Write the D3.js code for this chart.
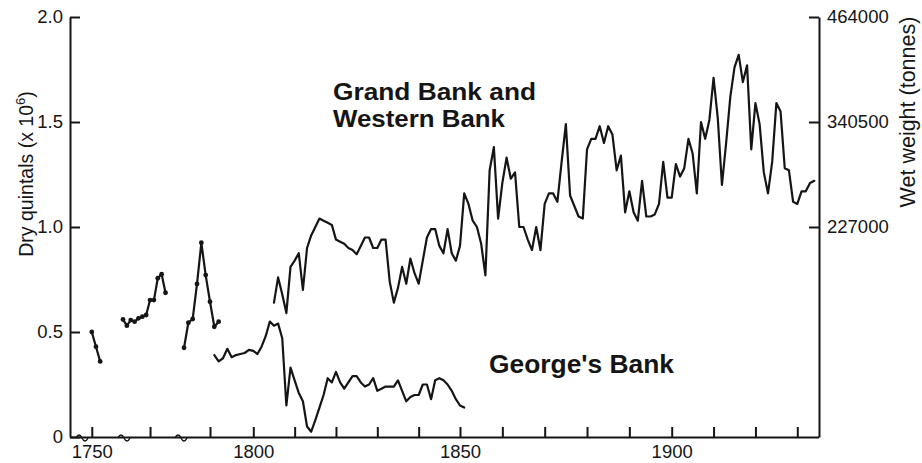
<!DOCTYPE html>
<html>
<head>
<meta charset="utf-8">
<script src="https://cdn.jsdelivr.net/npm/d3@7"></script>
<style>
  html, body { margin: 0; padding: 0; background: #fff; }
  svg { display: block; }
  text { font-family: "Liberation Sans", Arial, Helvetica, sans-serif; fill: #151515; }
</style>
</head>
<body>
<svg id="chart" width="922" height="463"></svg>
<script>
// Grand Bank and Western Bank catch, early fragmentary records (dotted segments)
const gbYearsA = [1750, 1751, 1752];
const gbValuesA = [0.50, 0.43, 0.36];
const gbYearsB = [1763, 1764, 1765, 1766, 1767, 1768, 1769, 1770, 1771, 1772, 1773, 1774];
const gbValuesB = [0.56, 0.53, 0.557, 0.549, 0.565, 0.573, 0.581, 0.652, 0.652, 0.756, 0.775, 0.687];
const gbYearsC = [1784, 1785, 1786, 1787, 1788, 1789, 1790, 1791, 1792];
const gbValuesC = [0.425, 0.544, 0.562, 0.729, 0.925, 0.771, 0.644, 0.525, 0.549];

// Grand Bank and Western Bank, continuous annual series 1805-1934 (million dry quintals)
const gbMainStart = 1805;
const gbMainValues = [
  0.64, 0.76, 0.68, 0.59, 0.81, 0.84, 0.875, 0.70, 0.90, 0.96,
  1.00, 1.04, 1.03, 1.02, 1.01, 0.94, 0.93, 0.92, 0.90, 0.89,
  0.87, 0.91, 0.95, 0.95, 0.90, 0.90, 0.94, 0.94, 0.74, 0.64,
  0.71, 0.81, 0.73, 0.85, 0.78, 0.73, 0.84, 0.95, 0.99, 0.99,
  0.91, 0.875, 0.99, 0.875, 0.84, 0.91, 1.16, 1.11, 1.03, 1.00,
  0.92, 0.77, 1.27, 1.38, 1.04, 1.21, 1.33, 1.23, 1.26, 1.00,
  1.00, 0.94, 0.89, 1.00, 0.89, 1.11, 1.16, 1.16, 1.12, 1.31,
  1.49, 1.15, 1.10, 1.05, 1.04, 1.37, 1.42, 1.42, 1.48, 1.40,
  1.48, 1.44, 1.27, 1.34, 1.07, 1.17, 1.07, 1.03, 1.22, 1.05,
  1.05, 1.06, 1.11, 1.31, 1.14, 1.14, 1.30, 1.24, 1.28, 1.42,
  1.35, 1.16, 1.50, 1.42, 1.51, 1.71, 1.52, 1.20, 1.40, 1.62,
  1.76, 1.82, 1.69, 1.77, 1.37, 1.59, 1.49, 1.26, 1.16, 1.31,
  1.59, 1.55, 1.28, 1.27, 1.12, 1.11, 1.17, 1.17, 1.21, 1.22
];

// George's Bank, annual series 1791-1851
const georgesStart = 1791;
const georgesValues = [
  0.39, 0.36, 0.375, 0.42, 0.38, 0.39, 0.395, 0.40, 0.415, 0.41,
  0.395, 0.43, 0.48, 0.55, 0.53, 0.54, 0.47, 0.15, 0.33, 0.27,
  0.21, 0.17, 0.05, 0.025, 0.08, 0.14, 0.20, 0.28, 0.26, 0.31,
  0.26, 0.23, 0.26, 0.29, 0.29, 0.26, 0.24, 0.25, 0.28, 0.22,
  0.23, 0.24, 0.24, 0.24, 0.27, 0.22, 0.17, 0.19, 0.20, 0.20,
  0.25, 0.25, 0.18, 0.27, 0.28, 0.27, 0.25, 0.22, 0.18, 0.15,
  0.14
];

// Axis ticks
const yTicks = [0, 0.5, 1.0, 1.5, 2.0];
const rightTicks = [227000, 340500, 464000];
const xTickYears = [1750, 1770, 1790, 1800, 1810, 1820, 1830, 1840, 1850, 1860,
                    1870, 1880, 1890, 1900, 1910, 1920, 1930];
const xLabelYears = [1750, 1800, 1850, 1900];
const breakYears = [1747.5, 1760, 1780];

const svg = d3.select("#chart");
const ink = "#151515";

// Broken time axis: compressed gaps between the early fragments
const x = d3.scaleLinear()
  .domain([1744.8, 1757.45, 1763, 1777.75, 1783.07, 1800, 1850, 1900, 1930, 1935])
  .range([70, 123, 123, 180, 180, 253.3, 460, 671.7, 797.3, 818.5]);
const breakX = d => d === 1747.5 ? 82 : d === 1760 ? 124 : 181;

const y = d3.scaleLinear().domain([0, 2]).range([437, 17]);
const yRight = d3.scaleLinear()
  .domain([0, 227000, 340500, 464000])
  .range([y(0), y(1), y(1.5), y(2)]);

function styleAxis(g) {
  g.selectAll("path.domain").attr("stroke", ink).attr("stroke-width", 2);
  g.selectAll(".tick line").attr("stroke", ink).attr("stroke-width", 2);
  g.selectAll(".tick text").attr("font-size", 18.5).style("fill", ink)
    .attr("font-family", "'Liberation Sans', Arial, Helvetica, sans-serif");
}

// Bottom axis
svg.append("g")
  .attr("transform", "translate(0,437)")
  .call(d3.axisBottom(x).tickValues(xTickYears).tickSize(-10).tickSizeOuter(0)
        .tickPadding(8).tickFormat(d => xLabelYears.includes(d) ? String(d) : ""))
  .call(styleAxis);

// Left axis
svg.append("g")
  .attr("transform", "translate(70,0)")
  .call(d3.axisLeft(y).tickValues(yTicks).tickSize(-10).tickSizeOuter(0)
        .tickPadding(7).tickFormat(d => d === 0 ? "0" : d3.format(".1f")(d)))
  .call(styleAxis);

// Right axis (wet weight)
svg.append("g")
  .attr("transform", "translate(819,0)")
  .call(d3.axisRight(yRight).tickValues(rightTicks).tickSize(-10).tickSizeOuter(0)
        .tickPadding(8).tickFormat(d3.format("d")))
  .call(styleAxis);

// Axis break marks
svg.append("g").selectAll("path")
  .data(breakYears)
  .join("path")
  .attr("d", d => {
    const bx = breakX(d);
    return `M${bx - 6},438 q3,-6 6,0 q3,6 6,0`;
  })
  .attr("fill", "none").attr("stroke", ink).attr("stroke-width", 1.5);

// Axis titles
svg.append("text")
  .attr("transform", "translate(33,174) rotate(-90)")
  .attr("text-anchor", "middle")
  .attr("font-size", 19.5)
  .html('Dry quintals (x 10<tspan dy="-8" font-size="13">6</tspan><tspan dy="8">)</tspan>');

svg.append("text")
  .attr("transform", "translate(915,112) rotate(-90)")
  .attr("text-anchor", "middle")
  .attr("font-size", 21.5)
  .text("Wet weight (tonnes)");

// Series
const line = d3.line().x(d => x(d.year)).y(d => y(d.value));
const zip = (years, values) => years.map((yr, i) => ({ year: yr, value: values[i] }));
const seq = (start, values) => values.map((v, i) => ({ year: start + i, value: v }));

const earlySegments = [zip(gbYearsA, gbValuesA), zip(gbYearsB, gbValuesB), zip(gbYearsC, gbValuesC)];
const lines = svg.append("g").attr("fill", "none").attr("stroke", ink)
  .attr("stroke-width", 2.2).attr("stroke-linejoin", "round").attr("stroke-linecap", "round");

earlySegments.forEach(seg => lines.append("path").attr("d", line(seg)));
lines.append("path").attr("d", line(seq(gbMainStart, gbMainValues)));
lines.append("path").attr("d", line(seq(georgesStart, georgesValues)));

svg.append("g").attr("fill", ink)
  .selectAll("circle")
  .data(earlySegments.flat())
  .join("circle")
  .attr("cx", d => x(d.year))
  .attr("cy", d => y(d.value))
  .attr("r", 2.4);

// Series labels
const labels = svg.append("g").attr("font-weight", "bold").attr("lengthAdjust", "spacingAndGlyphs");
labels.append("text").attr("x", 333).attr("y", 100).attr("font-size", 24)
  .attr("textLength", 203).attr("lengthAdjust", "spacingAndGlyphs").text("Grand Bank and");
labels.append("text").attr("x", 333).attr("y", 126.5).attr("font-size", 24)
  .attr("textLength", 172).attr("lengthAdjust", "spacingAndGlyphs").text("Western Bank");
labels.append("text").attr("x", 489).attr("y", 373).attr("font-size", 25)
  .attr("textLength", 185).attr("lengthAdjust", "spacingAndGlyphs").text("George's Bank");
</script>
</body>
</html>
